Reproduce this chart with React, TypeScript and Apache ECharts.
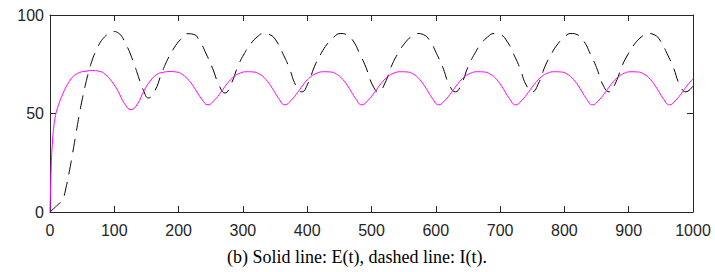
import React, { useEffect, useRef } from "react";
import * as echarts from "echarts";

// E(t): solid magenta line (times and values)
const eTime = [
  0, 2, 4, 6, 8, 10, 15, 20, 25, 30, 36, 46, 56, 66, 76, 86, 96, 106, 116, 126,
  136, 146, 156, 166, 176, 186, 196, 206, 216, 226, 236,
  245.7, 255.7, 265.7, 275.7, 285.7, 295.7, 305.7, 315.7, 325.7, 335.7, 345.7, 355.7,
  365.3, 375.3, 385.3, 395.3, 405.3, 415.3, 425.3, 435.3, 445.3, 455.3, 465.3, 475.3,
  484.9, 494.9, 504.9, 514.9, 524.9, 534.9, 544.9, 554.9, 564.9, 574.9, 584.9, 594.9,
  604.5, 614.5, 624.5, 634.5, 644.5, 654.5, 664.5, 674.5, 684.5, 694.5, 704.5, 714.5,
  724.1, 734.1, 744.1, 754.1, 764.1, 774.1, 784.1, 794.1, 804.1, 814.1, 824.1, 834.1,
  843.7, 853.7, 863.7, 873.7, 883.7, 893.7, 903.7, 913.7, 923.7, 933.7, 943.7, 953.7,
  963.3, 973.3, 983.3, 993.3, 1000,
];
const eValue = [
  0, 24, 36.5, 43.5, 48, 51, 56, 60, 63.5, 66.2, 68.8, 70.8, 71.5, 71.8, 71.5, 69.8, 66.3, 61.2, 55.0, 52.0,
  54.8, 61.5, 66.5, 69.8, 70.9, 71.3, 71.1, 69.8, 66.8, 62.3, 57.3,
  54.4, 56.8, 60.8, 65.2, 68.6, 70.5, 71.2, 71.1, 70.0, 67.3, 62.8, 57.6,
  54.4, 56.8, 60.8, 65.2, 68.6, 70.5, 71.2, 71.1, 70.0, 67.3, 62.8, 57.6,
  54.4, 56.8, 60.8, 65.2, 68.6, 70.5, 71.2, 71.1, 70.0, 67.3, 62.8, 57.6,
  54.4, 56.8, 60.8, 65.2, 68.6, 70.5, 71.2, 71.1, 70.0, 67.3, 62.8, 57.6,
  54.4, 56.8, 60.8, 65.2, 68.6, 70.5, 71.2, 71.1, 70.0, 67.3, 62.8, 57.6,
  54.4, 56.8, 60.8, 65.2, 68.6, 70.5, 71.2, 71.1, 70.0, 67.3, 62.8, 57.6,
  54.4, 56.8, 60.8, 65.2, 67.5,
];

// I(t): dashed black line
const iTime = [
  0, 5, 10, 15, 20, 25, 30, 35, 40, 45, 50, 55, 60, 65, 70, 75, 80, 85, 90, 95, 100, 105, 110, 115, 120, 125,
  130, 135, 140, 145, 153,
  163, 173, 183, 193, 203, 213, 223, 233, 243, 253, 263,
  272, 282, 292, 302, 312, 322, 332, 342, 352, 362, 372, 382,
  391.5, 401.5, 411.5, 421.5, 431.5, 441.5, 451.5, 461.5, 471.5, 481.5, 491.5, 501.5,
  511, 521, 531, 541, 551, 561, 571, 581, 591, 601, 611, 621,
  630.5, 640.5, 650.5, 660.5, 670.5, 680.5, 690.5, 700.5, 710.5, 720.5, 730.5, 740.5,
  750, 760, 770, 780, 790, 800, 810, 820, 830, 840, 850, 860,
  869.5, 879.5, 889.5, 899.5, 909.5, 919.5, 929.5, 939.5, 949.5, 959.5, 969.5, 979.5,
  989, 1000,
];
const iValue = [
  0, 1.5, 3, 4.5, 6.5, 12.5, 20.5, 29.5, 39, 48.5, 57, 64.5, 71, 76.5, 80.8, 84.2, 87, 88.9, 90.3, 91.3,
  91.6, 91.1, 89.8, 87.3, 84, 80.2, 75.8, 71.2, 66.3, 62.0, 57.9,
  61.5, 69.8, 77.5, 83.3, 87.6, 90.5, 90.2, 86.6, 80.2, 72.8, 64.3,
  60.4, 65.2, 73.8, 80.3, 85.3, 88.8, 90.6, 90.0, 86.8, 80.5, 73.3, 64.5,
  61.0, 65.5, 74.0, 80.4, 85.4, 88.8, 90.6, 90.0, 86.8, 80.5, 73.3, 64.5,
  61.0, 65.5, 74.0, 80.4, 85.4, 88.8, 90.6, 90.0, 86.8, 80.5, 73.3, 64.5,
  61.0, 65.5, 74.0, 80.4, 85.4, 88.8, 90.6, 90.0, 86.8, 80.5, 73.3, 64.5,
  61.0, 65.5, 74.0, 80.4, 85.4, 88.8, 90.6, 90.0, 86.8, 80.5, 73.3, 64.5,
  61.0, 65.5, 74.0, 80.4, 85.4, 88.8, 90.6, 90.0, 86.8, 80.5, 73.3, 64.5,
  61.0, 64.0,
];

const xTicks = { min: 0, max: 1000, interval: 100 };
const yTicks = { min: 0, max: 100, interval: 50 };
const caption = "(b) Solid line: E(t), dashed line: I(t).";

const axisColor = "#262626";

export default function App() {
  const ref = useRef<HTMLDivElement>(null);
  useEffect(() => {
    if (!ref.current) return;
    const chart = echarts.init(ref.current, undefined, { renderer: "svg" });
    const eData = eTime.map((t, k) => [t, eValue[k]]);
    const iData = iTime.map((t, k) => [t, iValue[k]]);
    const lineStyleAxis = { show: true, onZero: false, lineStyle: { color: axisColor, width: 1 } };
    const tick = { show: true, inside: true, length: 6, lineStyle: { color: axisColor, width: 1 } };
    const label = {
      color: axisColor,
      fontSize: 16,
      fontFamily: "Liberation Sans",
      formatter: (v: number) => String(v),
    };
    chart.setOption({
      animation: false,
      backgroundColor: "#ffffff",
      grid: { left: 50, right: 22, top: 15, height: 197 },
      xAxis: [
        {
          type: "value",
          position: "bottom",
          ...xTicks,
          axisLine: lineStyleAxis,
          axisTick: tick,
          axisLabel: { ...label, margin: 10 },
          splitLine: { show: false },
        },
        {
          type: "value",
          position: "top",
          ...xTicks,
          axisLine: lineStyleAxis,
          axisTick: tick,
          axisLabel: { show: false },
          splitLine: { show: false },
        },
      ],
      yAxis: [
        {
          type: "value",
          position: "left",
          ...yTicks,
          axisLine: lineStyleAxis,
          axisTick: tick,
          axisLabel: { ...label, margin: 6 },
          splitLine: { show: false },
        },
        {
          type: "value",
          position: "right",
          ...yTicks,
          axisLine: lineStyleAxis,
          axisTick: tick,
          axisLabel: { show: false },
          splitLine: { show: false },
        },
      ],
      series: [
        {
          name: "E(t)",
          type: "line",
          data: eData,
          symbol: "none",
          smooth: 0.5,
          lineStyle: { color: "#ff00ff", width: 1 },
          z: 3,
        },
        {
          name: "I(t)",
          type: "line",
          data: iData,
          symbol: "none",
          smooth: 0.5,
          lineStyle: { color: "#000000", width: 1, type: [14, 8] },
          z: 2,
        },
      ],
      graphic: [
        {
          type: "text",
          x: 357,
          y: 257,
          style: {
            text: caption,
            fill: "#000000",
            fontSize: 18,
            fontFamily: "Liberation Serif",
            align: "center",
            verticalAlign: "middle",
          },
        },
      ],
    });
    return () => chart.dispose();
  }, []);
  return (
    <div
      ref={ref}
      style={{ position: "fixed", left: 0, top: 0, width: 715, height: 272, background: "#fff" }}
    />
  );
}
